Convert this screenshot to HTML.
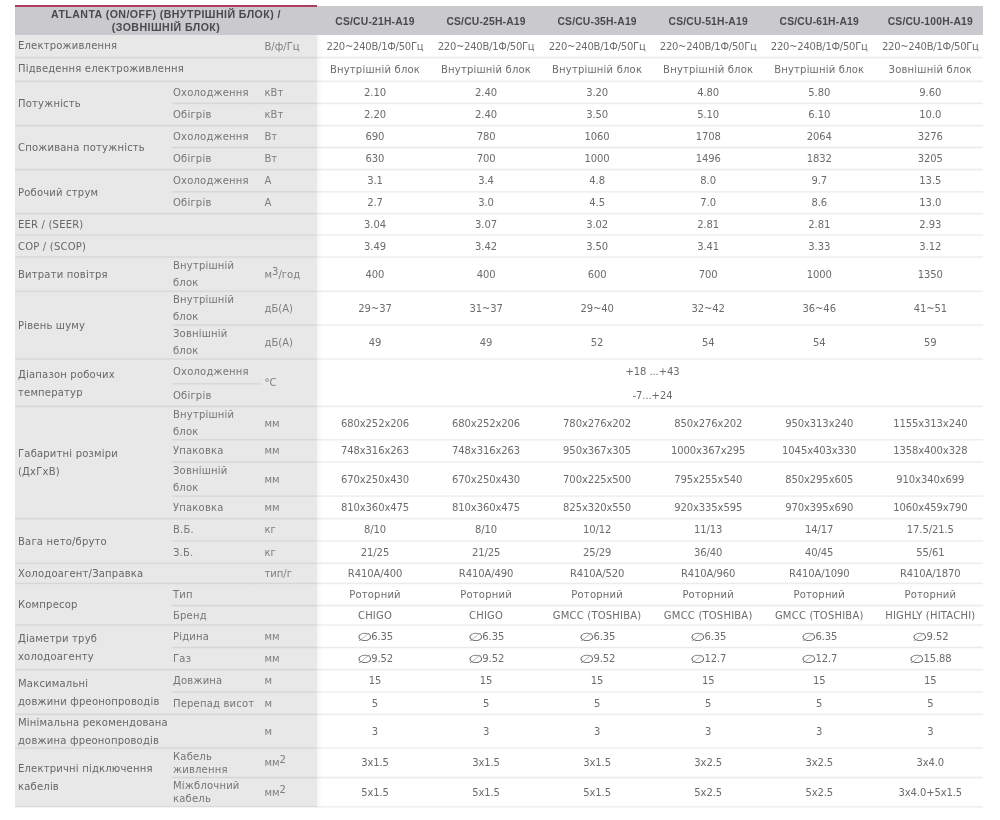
<!DOCTYPE html>
<html lang="uk"><head><meta charset="utf-8"><title>ATLANTA (ON/OFF)</title>
<style>
html,body{margin:0;padding:0;background:#fff}
body{width:1000px;height:820px;position:relative;overflow:hidden;font-family:"DejaVu Sans","Liberation Sans",sans-serif;font-size:10px;letter-spacing:.2px;color:#6a6a6a;-webkit-font-smoothing:antialiased}
.left{position:absolute;left:15px;top:34.8px;width:302px;height:772.3px;background:#e8e8e8}
.shadow{position:absolute;left:317px;top:35px;width:5px;height:771px;background:linear-gradient(to right,rgba(0,0,0,.04),rgba(0,0,0,0))}
.red{position:absolute;left:15px;top:4.7px;width:302px;height:1.9px;background:#ad3f5e}
.hd{position:absolute;left:15px;top:5.85px;width:968px;height:28.95px;background:#c9c9ce}
.hl{position:absolute;left:15px;top:7.1px;width:302px;height:27.5px;display:flex;align-items:center;justify-content:center;text-align:center;font-family:"Liberation Sans",sans-serif;font-weight:bold;font-size:10.6px;line-height:12.8px;color:#4a4a4c;letter-spacing:.45px}
.hc{position:absolute;top:7.3px;height:27.5px;width:120px;display:flex;align-items:center;justify-content:center;font-family:"Liberation Sans",sans-serif;font-weight:bold;font-size:10.3px;color:#4a4a4c;white-space:nowrap}
.l{position:absolute;height:5px}
.g{color:#676767}.s{color:#757575}.u{color:#7e7e7e;letter-spacing:0}.v{color:#6c6c6c}
.g{position:absolute;left:18px;width:160px;display:flex;align-items:center;line-height:18px;white-space:nowrap}
.s{position:absolute;left:173px;width:92px;display:flex;align-items:center;line-height:17px;white-space:nowrap}
.s.t{line-height:13px}
.u{position:absolute;left:264.5px;width:52px;display:flex;align-items:center;white-space:nowrap}
.v{position:absolute;width:130px;display:flex;align-items:center;justify-content:center;white-space:nowrap;letter-spacing:-.1px}
.v.t{letter-spacing:.2px}
.v.n{letter-spacing:-.25px}
.d{display:inline-block;transform:scale(1.72,1.18);margin:0 3px 0 2.8px}
sup{font-size:10px;line-height:0;vertical-align:3.5px}
</style></head><body>

<main class="spec">
<div class="left"></div><div class="shadow"></div>
<header class="thead"><div class="hd"></div><div class="red"></div>
<div class="hl"><span>ATLANTA (ON/OFF) (ВНУТРІШНІЙ БЛОК) /<br>(ЗОВНІШНІЙ БЛОК)</span></div>
<div class="hc" style="left:315px">CS/CU-21H-A19</div>
<div class="hc" style="left:426.06px">CS/CU-25H-A19</div>
<div class="hc" style="left:537.12px">CS/CU-35H-A19</div>
<div class="hc" style="left:648.18px">CS/CU-51H-A19</div>
<div class="hc" style="left:759.24px">CS/CU-61H-A19</div>
<div class="hc" style="left:870.3px">CS/CU-100H-A19</div>
</header>
<section class="grp">
<div class="g" style="top:34.9px;height:22.6px"><span>Електроживлення</span></div>
<div class="tr">
<div class="u" style="top:34.9px;height:22.6px"><span>В/ф/Гц</span></div>
<div class="v n" style="left:310px;top:34.9px;height:22.6px"><span>220~240В/1Ф/50Гц</span></div>
<div class="v n" style="left:421.06px;top:34.9px;height:22.6px"><span>220~240В/1Ф/50Гц</span></div>
<div class="v n" style="left:532.12px;top:34.9px;height:22.6px"><span>220~240В/1Ф/50Гц</span></div>
<div class="v n" style="left:643.18px;top:34.9px;height:22.6px"><span>220~240В/1Ф/50Гц</span></div>
<div class="v n" style="left:754.24px;top:34.9px;height:22.6px"><span>220~240В/1Ф/50Гц</span></div>
<div class="v n" style="left:865.3px;top:34.9px;height:22.6px"><span>220~240В/1Ф/50Гц</span></div>
</div>
</section>
<section class="grp">
<div class="g" style="top:57.5px;height:23.8px"><span>Підведення електроживлення</span></div>
<div class="tr">
<div class="l" style="left:15px;top:55px;width:968px;background:linear-gradient(to bottom,rgba(0,0,0,0) 1.10px,rgba(0,0,0,0.08) 2.50px,rgba(0,0,0,0) 3.90px)"></div>
<div class="v t" style="left:310px;top:57.5px;height:23.8px"><span>Внутрішній блок</span></div>
<div class="v t" style="left:421.06px;top:57.5px;height:23.8px"><span>Внутрішній блок</span></div>
<div class="v t" style="left:532.12px;top:57.5px;height:23.8px"><span>Внутрішній блок</span></div>
<div class="v t" style="left:643.18px;top:57.5px;height:23.8px"><span>Внутрішній блок</span></div>
<div class="v t" style="left:754.24px;top:57.5px;height:23.8px"><span>Внутрішній блок</span></div>
<div class="v t" style="left:865.3px;top:57.5px;height:23.8px"><span>Зовнішній блок</span></div>
</div>
</section>
<section class="grp">
<div class="g" style="top:82.3px;height:44.3px"><span>Потужність</span></div>
<div class="tr">
<div class="l" style="left:15px;top:79px;width:968px;background:linear-gradient(to bottom,rgba(0,0,0,0) 0.90px,rgba(0,0,0,0.08) 2.30px,rgba(0,0,0,0) 3.70px)"></div>
<div class="s" style="top:81.3px;height:22.1px"><span>Охолодження</span></div>
<div class="u" style="top:81.3px;height:22.1px"><span>кВт</span></div>
<div class="v" style="left:310px;top:81.3px;height:22.1px"><span>2.10</span></div>
<div class="v" style="left:421.06px;top:81.3px;height:22.1px"><span>2.40</span></div>
<div class="v" style="left:532.12px;top:81.3px;height:22.1px"><span>3.20</span></div>
<div class="v" style="left:643.18px;top:81.3px;height:22.1px"><span>4.80</span></div>
<div class="v" style="left:754.24px;top:81.3px;height:22.1px"><span>5.80</span></div>
<div class="v" style="left:865.3px;top:81.3px;height:22.1px"><span>9.60</span></div>
</div>
<div class="tr">
<div class="l" style="left:172px;top:101px;width:811px;background:linear-gradient(to bottom,rgba(0,0,0,0) 1.00px,rgba(0,0,0,0.08) 2.40px,rgba(0,0,0,0) 3.80px)"></div>
<div class="s" style="top:103.4px;height:22.2px"><span>Обігрів</span></div>
<div class="u" style="top:103.4px;height:22.2px"><span>кВт</span></div>
<div class="v" style="left:310px;top:103.4px;height:22.2px"><span>2.20</span></div>
<div class="v" style="left:421.06px;top:103.4px;height:22.2px"><span>2.40</span></div>
<div class="v" style="left:532.12px;top:103.4px;height:22.2px"><span>3.50</span></div>
<div class="v" style="left:643.18px;top:103.4px;height:22.2px"><span>5.10</span></div>
<div class="v" style="left:754.24px;top:103.4px;height:22.2px"><span>6.10</span></div>
<div class="v" style="left:865.3px;top:103.4px;height:22.2px"><span>10.0</span></div>
</div>
</section>
<section class="grp">
<div class="g" style="top:125.6px;height:43.9px"><span>Споживана потужність</span></div>
<div class="tr">
<div class="l" style="left:15px;top:123px;width:968px;background:linear-gradient(to bottom,rgba(0,0,0,0) 1.20px,rgba(0,0,0,0.08) 2.60px,rgba(0,0,0,0) 4.00px)"></div>
<div class="s" style="top:125.6px;height:21.9px"><span>Охолодження</span></div>
<div class="u" style="top:125.6px;height:21.9px"><span>Вт</span></div>
<div class="v" style="left:310px;top:125.6px;height:21.9px"><span>690</span></div>
<div class="v" style="left:421.06px;top:125.6px;height:21.9px"><span>780</span></div>
<div class="v" style="left:532.12px;top:125.6px;height:21.9px"><span>1060</span></div>
<div class="v" style="left:643.18px;top:125.6px;height:21.9px"><span>1708</span></div>
<div class="v" style="left:754.24px;top:125.6px;height:21.9px"><span>2064</span></div>
<div class="v" style="left:865.3px;top:125.6px;height:21.9px"><span>3276</span></div>
</div>
<div class="tr">
<div class="l" style="left:172px;top:145px;width:811px;background:linear-gradient(to bottom,rgba(0,0,0,0) 1.10px,rgba(0,0,0,0.08) 2.50px,rgba(0,0,0,0) 3.90px)"></div>
<div class="s" style="top:147.5px;height:22px"><span>Обігрів</span></div>
<div class="u" style="top:147.5px;height:22px"><span>Вт</span></div>
<div class="v" style="left:310px;top:147.5px;height:22px"><span>630</span></div>
<div class="v" style="left:421.06px;top:147.5px;height:22px"><span>700</span></div>
<div class="v" style="left:532.12px;top:147.5px;height:22px"><span>1000</span></div>
<div class="v" style="left:643.18px;top:147.5px;height:22px"><span>1496</span></div>
<div class="v" style="left:754.24px;top:147.5px;height:22px"><span>1832</span></div>
<div class="v" style="left:865.3px;top:147.5px;height:22px"><span>3205</span></div>
</div>
</section>
<section class="grp">
<div class="g" style="top:170.5px;height:44.2px"><span>Робочий струм</span></div>
<div class="tr">
<div class="l" style="left:15px;top:167px;width:968px;background:linear-gradient(to bottom,rgba(0,0,0,0) 1.10px,rgba(0,0,0,0.08) 2.50px,rgba(0,0,0,0) 3.90px)"></div>
<div class="s" style="top:169.5px;height:22.3px"><span>Охолодження</span></div>
<div class="u" style="top:169.5px;height:22.3px"><span>А</span></div>
<div class="v" style="left:310px;top:169.5px;height:22.3px"><span>3.1</span></div>
<div class="v" style="left:421.06px;top:169.5px;height:22.3px"><span>3.4</span></div>
<div class="v" style="left:532.12px;top:169.5px;height:22.3px"><span>4.8</span></div>
<div class="v" style="left:643.18px;top:169.5px;height:22.3px"><span>8.0</span></div>
<div class="v" style="left:754.24px;top:169.5px;height:22.3px"><span>9.7</span></div>
<div class="v" style="left:865.3px;top:169.5px;height:22.3px"><span>13.5</span></div>
</div>
<div class="tr">
<div class="l" style="left:172px;top:189px;width:811px;background:linear-gradient(to bottom,rgba(0,0,0,0) 1.40px,rgba(0,0,0,0.08) 2.80px,rgba(0,0,0,0) 4.20px)"></div>
<div class="s" style="top:191.8px;height:21.9px"><span>Обігрів</span></div>
<div class="u" style="top:191.8px;height:21.9px"><span>А</span></div>
<div class="v" style="left:310px;top:191.8px;height:21.9px"><span>2.7</span></div>
<div class="v" style="left:421.06px;top:191.8px;height:21.9px"><span>3.0</span></div>
<div class="v" style="left:532.12px;top:191.8px;height:21.9px"><span>4.5</span></div>
<div class="v" style="left:643.18px;top:191.8px;height:21.9px"><span>7.0</span></div>
<div class="v" style="left:754.24px;top:191.8px;height:21.9px"><span>8.6</span></div>
<div class="v" style="left:865.3px;top:191.8px;height:21.9px"><span>13.0</span></div>
</div>
</section>
<section class="grp">
<div class="g" style="top:214.7px;height:21.4px"><span>EER / (SEER)</span></div>
<div class="tr">
<div class="l" style="left:15px;top:211px;width:968px;background:linear-gradient(to bottom,rgba(0,0,0,0) 1.30px,rgba(0,0,0,0.08) 2.70px,rgba(0,0,0,0) 4.10px)"></div>
<div class="v" style="left:310px;top:213.7px;height:21.4px"><span>3.04</span></div>
<div class="v" style="left:421.06px;top:213.7px;height:21.4px"><span>3.07</span></div>
<div class="v" style="left:532.12px;top:213.7px;height:21.4px"><span>3.02</span></div>
<div class="v" style="left:643.18px;top:213.7px;height:21.4px"><span>2.81</span></div>
<div class="v" style="left:754.24px;top:213.7px;height:21.4px"><span>2.81</span></div>
<div class="v" style="left:865.3px;top:213.7px;height:21.4px"><span>2.93</span></div>
</div>
</section>
<section class="grp">
<div class="g" style="top:236.1px;height:21.9px"><span>COP / (SCOP)</span></div>
<div class="tr">
<div class="l" style="left:15px;top:233px;width:968px;background:linear-gradient(to bottom,rgba(0,0,0,0) 0.70px,rgba(0,0,0,0.08) 2.10px,rgba(0,0,0,0) 3.50px)"></div>
<div class="v" style="left:310px;top:235.1px;height:21.9px"><span>3.49</span></div>
<div class="v" style="left:421.06px;top:235.1px;height:21.9px"><span>3.42</span></div>
<div class="v" style="left:532.12px;top:235.1px;height:21.9px"><span>3.50</span></div>
<div class="v" style="left:643.18px;top:235.1px;height:21.9px"><span>3.41</span></div>
<div class="v" style="left:754.24px;top:235.1px;height:21.9px"><span>3.33</span></div>
<div class="v" style="left:865.3px;top:235.1px;height:21.9px"><span>3.12</span></div>
</div>
</section>
<section class="grp">
<div class="g" style="top:258px;height:34.2px"><span>Витрати повітря</span></div>
<div class="tr">
<div class="l" style="left:15px;top:255px;width:968px;background:linear-gradient(to bottom,rgba(0,0,0,0) 0.60px,rgba(0,0,0,0.08) 2.00px,rgba(0,0,0,0) 3.40px)"></div>
<div class="s" style="top:257px;height:34.2px"><span>Внутрішній<br>блок</span></div>
<div class="u" style="top:257px;height:34.2px"><span>м<sup>3</sup>/год</span></div>
<div class="v" style="left:310px;top:257px;height:34.2px"><span>400</span></div>
<div class="v" style="left:421.06px;top:257px;height:34.2px"><span>400</span></div>
<div class="v" style="left:532.12px;top:257px;height:34.2px"><span>600</span></div>
<div class="v" style="left:643.18px;top:257px;height:34.2px"><span>700</span></div>
<div class="v" style="left:754.24px;top:257px;height:34.2px"><span>1000</span></div>
<div class="v" style="left:865.3px;top:257px;height:34.2px"><span>1350</span></div>
</div>
</section>
<section class="grp">
<div class="g" style="top:292.2px;height:67.8px"><span>Рівень шуму</span></div>
<div class="tr">
<div class="l" style="left:15px;top:289px;width:968px;background:linear-gradient(to bottom,rgba(0,0,0,0) 0.80px,rgba(0,0,0,0.08) 2.20px,rgba(0,0,0,0) 3.60px)"></div>
<div class="s" style="top:291.2px;height:33.9px"><span>Внутрішній<br>блок</span></div>
<div class="u" style="top:291.2px;height:33.9px"><span>дБ(А)</span></div>
<div class="v" style="left:310px;top:291.2px;height:33.9px"><span>29~37</span></div>
<div class="v" style="left:421.06px;top:291.2px;height:33.9px"><span>31~37</span></div>
<div class="v" style="left:532.12px;top:291.2px;height:33.9px"><span>29~40</span></div>
<div class="v" style="left:643.18px;top:291.2px;height:33.9px"><span>32~42</span></div>
<div class="v" style="left:754.24px;top:291.2px;height:33.9px"><span>36~46</span></div>
<div class="v" style="left:865.3px;top:291.2px;height:33.9px"><span>41~51</span></div>
</div>
<div class="tr">
<div class="l" style="left:172px;top:323px;width:811px;background:linear-gradient(to bottom,rgba(0,0,0,0) 0.70px,rgba(0,0,0,0.08) 2.10px,rgba(0,0,0,0) 3.50px)"></div>
<div class="s" style="top:325.1px;height:33.9px"><span>Зовнішній<br>блок</span></div>
<div class="u" style="top:325.1px;height:33.9px"><span>дБ(А)</span></div>
<div class="v" style="left:310px;top:325.1px;height:33.9px"><span>49</span></div>
<div class="v" style="left:421.06px;top:325.1px;height:33.9px"><span>49</span></div>
<div class="v" style="left:532.12px;top:325.1px;height:33.9px"><span>52</span></div>
<div class="v" style="left:643.18px;top:325.1px;height:33.9px"><span>54</span></div>
<div class="v" style="left:754.24px;top:325.1px;height:33.9px"><span>54</span></div>
<div class="v" style="left:865.3px;top:325.1px;height:33.9px"><span>59</span></div>
</div>
</section>
<section class="grp">
<div class="g" style="top:360px;height:47.3px"><span>Діапазон робочих<br>температур</span></div>
<div class="tr">
<div class="l" style="left:15px;top:357px;width:968px;background:linear-gradient(to bottom,rgba(0,0,0,0) 0.60px,rgba(0,0,0,0.08) 2.00px,rgba(0,0,0,0) 3.40px)"></div>
<div class="l" style="left:172px;top:381px;width:90px;background:linear-gradient(to bottom,rgba(0,0,0,0) 1.40px,rgba(0,0,0,0.08) 2.80px,rgba(0,0,0,0) 4.20px)"></div>
<div class="s" style="top:359px;height:24.8px"><span>Охолодження</span></div>
<div class="s" style="top:383.8px;height:22.5px"><span>Обігрів</span></div>
<div class="u" style="top:359px;height:47.3px"><span>°C</span></div>
<div class="v" style="left:587.5px;top:359px;height:24.8px"><span>+18 ...+43</span></div>
<div class="v" style="left:587.5px;top:383.8px;height:22.5px"><span>-7...+24</span></div>
</div>
</section>
<section class="grp">
<div class="g" style="top:407.3px;height:112.35px"><span>Габаритні розміри<br>(ДхГхВ)</span></div>
<div class="tr">
<div class="l" style="left:15px;top:404px;width:968px;background:linear-gradient(to bottom,rgba(0,0,0,0) 0.90px,rgba(0,0,0,0.08) 2.30px,rgba(0,0,0,0) 3.70px)"></div>
<div class="s" style="top:406.3px;height:33.45px"><span>Внутрішній<br>блок</span></div>
<div class="u" style="top:406.3px;height:33.45px"><span>мм</span></div>
<div class="v" style="left:310px;top:406.3px;height:33.45px"><span>680x252x206</span></div>
<div class="v" style="left:421.06px;top:406.3px;height:33.45px"><span>680x252x206</span></div>
<div class="v" style="left:532.12px;top:406.3px;height:33.45px"><span>780x276x202</span></div>
<div class="v" style="left:643.18px;top:406.3px;height:33.45px"><span>850x276x202</span></div>
<div class="v" style="left:754.24px;top:406.3px;height:33.45px"><span>950x313x240</span></div>
<div class="v" style="left:865.3px;top:406.3px;height:33.45px"><span>1155x313x240</span></div>
</div>
<div class="tr">
<div class="l" style="left:172px;top:437px;width:811px;background:linear-gradient(to bottom,rgba(0,0,0,0) 1.35px,rgba(0,0,0,0.08) 2.75px,rgba(0,0,0,0) 4.15px)"></div>
<div class="s" style="top:439.75px;height:22.4px"><span>Упаковка</span></div>
<div class="u" style="top:439.75px;height:22.4px"><span>мм</span></div>
<div class="v" style="left:310px;top:439.75px;height:22.4px"><span>748x316x263</span></div>
<div class="v" style="left:421.06px;top:439.75px;height:22.4px"><span>748x316x263</span></div>
<div class="v" style="left:532.12px;top:439.75px;height:22.4px"><span>950x367x305</span></div>
<div class="v" style="left:643.18px;top:439.75px;height:22.4px"><span>1000x367x295</span></div>
<div class="v" style="left:754.24px;top:439.75px;height:22.4px"><span>1045x403x330</span></div>
<div class="v" style="left:865.3px;top:439.75px;height:22.4px"><span>1358x400x328</span></div>
</div>
<div class="tr">
<div class="l" style="left:172px;top:460px;width:811px;background:linear-gradient(to bottom,rgba(0,0,0,0) 0.75px,rgba(0,0,0,0.08) 2.15px,rgba(0,0,0,0) 3.55px)"></div>
<div class="s" style="top:462.15px;height:33.95px"><span>Зовнішній<br>блок</span></div>
<div class="u" style="top:462.15px;height:33.95px"><span>мм</span></div>
<div class="v" style="left:310px;top:462.15px;height:33.95px"><span>670x250x430</span></div>
<div class="v" style="left:421.06px;top:462.15px;height:33.95px"><span>670x250x430</span></div>
<div class="v" style="left:532.12px;top:462.15px;height:33.95px"><span>700x225x500</span></div>
<div class="v" style="left:643.18px;top:462.15px;height:33.95px"><span>795x255x540</span></div>
<div class="v" style="left:754.24px;top:462.15px;height:33.95px"><span>850x295x605</span></div>
<div class="v" style="left:865.3px;top:462.15px;height:33.95px"><span>910x340x699</span></div>
</div>
<div class="tr">
<div class="l" style="left:172px;top:494px;width:811px;background:linear-gradient(to bottom,rgba(0,0,0,0) 0.70px,rgba(0,0,0,0.08) 2.10px,rgba(0,0,0,0) 3.50px)"></div>
<div class="s" style="top:496.1px;height:22.55px"><span>Упаковка</span></div>
<div class="u" style="top:496.1px;height:22.55px"><span>мм</span></div>
<div class="v" style="left:310px;top:496.1px;height:22.55px"><span>810x360x475</span></div>
<div class="v" style="left:421.06px;top:496.1px;height:22.55px"><span>810x360x475</span></div>
<div class="v" style="left:532.12px;top:496.1px;height:22.55px"><span>825x320x550</span></div>
<div class="v" style="left:643.18px;top:496.1px;height:22.55px"><span>920x335x595</span></div>
<div class="v" style="left:754.24px;top:496.1px;height:22.55px"><span>970x395x690</span></div>
<div class="v" style="left:865.3px;top:496.1px;height:22.55px"><span>1060x459x790</span></div>
</div>
</section>
<section class="grp">
<div class="g" style="top:519.65px;height:44.55px"><span>Вага нето/бруто</span></div>
<div class="tr">
<div class="l" style="left:15px;top:516px;width:968px;background:linear-gradient(to bottom,rgba(0,0,0,0) 1.25px,rgba(0,0,0,0.08) 2.65px,rgba(0,0,0,0) 4.05px)"></div>
<div class="s" style="top:518.65px;height:22.25px"><span>В.Б.</span></div>
<div class="u" style="top:518.65px;height:22.25px"><span>кг</span></div>
<div class="v" style="left:310px;top:518.65px;height:22.25px"><span>8/10</span></div>
<div class="v" style="left:421.06px;top:518.65px;height:22.25px"><span>8/10</span></div>
<div class="v" style="left:532.12px;top:518.65px;height:22.25px"><span>10/12</span></div>
<div class="v" style="left:643.18px;top:518.65px;height:22.25px"><span>11/13</span></div>
<div class="v" style="left:754.24px;top:518.65px;height:22.25px"><span>14/17</span></div>
<div class="v" style="left:865.3px;top:518.65px;height:22.25px"><span>17.5/21.5</span></div>
</div>
<div class="tr">
<div class="l" style="left:172px;top:538px;width:811px;background:linear-gradient(to bottom,rgba(0,0,0,0) 1.50px,rgba(0,0,0,0.08) 2.90px,rgba(0,0,0,0) 4.30px)"></div>
<div class="s" style="top:540.9px;height:22.3px"><span>З.Б.</span></div>
<div class="u" style="top:540.9px;height:22.3px"><span>кг</span></div>
<div class="v" style="left:310px;top:540.9px;height:22.3px"><span>21/25</span></div>
<div class="v" style="left:421.06px;top:540.9px;height:22.3px"><span>21/25</span></div>
<div class="v" style="left:532.12px;top:540.9px;height:22.3px"><span>25/29</span></div>
<div class="v" style="left:643.18px;top:540.9px;height:22.3px"><span>36/40</span></div>
<div class="v" style="left:754.24px;top:540.9px;height:22.3px"><span>40/45</span></div>
<div class="v" style="left:865.3px;top:540.9px;height:22.3px"><span>55/61</span></div>
</div>
</section>
<section class="grp">
<div class="g" style="top:564.2px;height:20.2px"><span>Холодоагент/Заправка</span></div>
<div class="tr">
<div class="l" style="left:15px;top:561px;width:968px;background:linear-gradient(to bottom,rgba(0,0,0,0) 0.80px,rgba(0,0,0,0.08) 2.20px,rgba(0,0,0,0) 3.60px)"></div>
<div class="u" style="top:563.2px;height:20.2px"><span>тип/г</span></div>
<div class="v" style="left:310px;top:563.2px;height:20.2px"><span>R410A/400</span></div>
<div class="v" style="left:421.06px;top:563.2px;height:20.2px"><span>R410A/490</span></div>
<div class="v" style="left:532.12px;top:563.2px;height:20.2px"><span>R410A/520</span></div>
<div class="v" style="left:643.18px;top:563.2px;height:20.2px"><span>R410A/960</span></div>
<div class="v" style="left:754.24px;top:563.2px;height:20.2px"><span>R410A/1090</span></div>
<div class="v" style="left:865.3px;top:563.2px;height:20.2px"><span>R410A/1870</span></div>
</div>
</section>
<section class="grp">
<div class="g" style="top:584.4px;height:41.6px"><span>Компресор</span></div>
<div class="tr">
<div class="l" style="left:15px;top:581px;width:968px;background:linear-gradient(to bottom,rgba(0,0,0,0) 1.00px,rgba(0,0,0,0.08) 2.40px,rgba(0,0,0,0) 3.80px)"></div>
<div class="s" style="top:583.4px;height:22.1px"><span>Тип</span></div>
<div class="v t" style="left:310px;top:583.4px;height:22.1px"><span>Роторний</span></div>
<div class="v t" style="left:421.06px;top:583.4px;height:22.1px"><span>Роторний</span></div>
<div class="v t" style="left:532.12px;top:583.4px;height:22.1px"><span>Роторний</span></div>
<div class="v t" style="left:643.18px;top:583.4px;height:22.1px"><span>Роторний</span></div>
<div class="v t" style="left:754.24px;top:583.4px;height:22.1px"><span>Роторний</span></div>
<div class="v t" style="left:865.3px;top:583.4px;height:22.1px"><span>Роторний</span></div>
</div>
<div class="tr">
<div class="l" style="left:172px;top:603px;width:811px;background:linear-gradient(to bottom,rgba(0,0,0,0) 1.10px,rgba(0,0,0,0.08) 2.50px,rgba(0,0,0,0) 3.90px)"></div>
<div class="s" style="top:605.5px;height:19.5px"><span>Бренд</span></div>
<div class="v t" style="left:310px;top:605.5px;height:19.5px"><span>CHIGO</span></div>
<div class="v t" style="left:421.06px;top:605.5px;height:19.5px"><span>CHIGO</span></div>
<div class="v t" style="left:532.12px;top:605.5px;height:19.5px"><span>GMCC (TOSHIBA)</span></div>
<div class="v t" style="left:643.18px;top:605.5px;height:19.5px"><span>GMCC (TOSHIBA)</span></div>
<div class="v t" style="left:754.24px;top:605.5px;height:19.5px"><span>GMCC (TOSHIBA)</span></div>
<div class="v t" style="left:865.3px;top:605.5px;height:19.5px"><span>HIGHLY (HITACHI)</span></div>
</div>
</section>
<section class="grp">
<div class="g" style="top:626px;height:44.7px"><span>Діаметри труб<br>холодоагенту</span></div>
<div class="tr">
<div class="l" style="left:15px;top:623px;width:968px;background:linear-gradient(to bottom,rgba(0,0,0,0) 0.60px,rgba(0,0,0,0.08) 2.00px,rgba(0,0,0,0) 3.40px)"></div>
<div class="s" style="top:625px;height:22.5px"><span>Рідина</span></div>
<div class="u" style="top:625px;height:22.5px"><span>мм</span></div>
<div class="v" style="left:310px;top:625px;height:22.5px"><span><span class="d">∅</span>6.35</span></div>
<div class="v" style="left:421.06px;top:625px;height:22.5px"><span><span class="d">∅</span>6.35</span></div>
<div class="v" style="left:532.12px;top:625px;height:22.5px"><span><span class="d">∅</span>6.35</span></div>
<div class="v" style="left:643.18px;top:625px;height:22.5px"><span><span class="d">∅</span>6.35</span></div>
<div class="v" style="left:754.24px;top:625px;height:22.5px"><span><span class="d">∅</span>6.35</span></div>
<div class="v" style="left:865.3px;top:625px;height:22.5px"><span><span class="d">∅</span>9.52</span></div>
</div>
<div class="tr">
<div class="l" style="left:172px;top:645px;width:811px;background:linear-gradient(to bottom,rgba(0,0,0,0) 1.10px,rgba(0,0,0,0.08) 2.50px,rgba(0,0,0,0) 3.90px)"></div>
<div class="s" style="top:647.5px;height:22.2px"><span>Газ</span></div>
<div class="u" style="top:647.5px;height:22.2px"><span>мм</span></div>
<div class="v" style="left:310px;top:647.5px;height:22.2px"><span><span class="d">∅</span>9.52</span></div>
<div class="v" style="left:421.06px;top:647.5px;height:22.2px"><span><span class="d">∅</span>9.52</span></div>
<div class="v" style="left:532.12px;top:647.5px;height:22.2px"><span><span class="d">∅</span>9.52</span></div>
<div class="v" style="left:643.18px;top:647.5px;height:22.2px"><span><span class="d">∅</span>12.7</span></div>
<div class="v" style="left:754.24px;top:647.5px;height:22.2px"><span><span class="d">∅</span>12.7</span></div>
<div class="v" style="left:865.3px;top:647.5px;height:22.2px"><span><span class="d">∅</span>15.88</span></div>
</div>
</section>
<section class="grp">
<div class="g" style="top:670.7px;height:44.6px"><span>Максимальні<br>довжини фреонопроводів</span></div>
<div class="tr">
<div class="l" style="left:15px;top:667px;width:968px;background:linear-gradient(to bottom,rgba(0,0,0,0) 1.30px,rgba(0,0,0,0.08) 2.70px,rgba(0,0,0,0) 4.10px)"></div>
<div class="s" style="top:669.7px;height:22.2px"><span>Довжина</span></div>
<div class="u" style="top:669.7px;height:22.2px"><span>м</span></div>
<div class="v" style="left:310px;top:669.7px;height:22.2px"><span>15</span></div>
<div class="v" style="left:421.06px;top:669.7px;height:22.2px"><span>15</span></div>
<div class="v" style="left:532.12px;top:669.7px;height:22.2px"><span>15</span></div>
<div class="v" style="left:643.18px;top:669.7px;height:22.2px"><span>15</span></div>
<div class="v" style="left:754.24px;top:669.7px;height:22.2px"><span>15</span></div>
<div class="v" style="left:865.3px;top:669.7px;height:22.2px"><span>15</span></div>
</div>
<div class="tr">
<div class="l" style="left:172px;top:689px;width:811px;background:linear-gradient(to bottom,rgba(0,0,0,0) 1.50px,rgba(0,0,0,0.08) 2.90px,rgba(0,0,0,0) 4.30px)"></div>
<div class="s" style="top:691.9px;height:22.4px"><span>Перепад висот</span></div>
<div class="u" style="top:691.9px;height:22.4px"><span>м</span></div>
<div class="v" style="left:310px;top:691.9px;height:22.4px"><span>5</span></div>
<div class="v" style="left:421.06px;top:691.9px;height:22.4px"><span>5</span></div>
<div class="v" style="left:532.12px;top:691.9px;height:22.4px"><span>5</span></div>
<div class="v" style="left:643.18px;top:691.9px;height:22.4px"><span>5</span></div>
<div class="v" style="left:754.24px;top:691.9px;height:22.4px"><span>5</span></div>
<div class="v" style="left:865.3px;top:691.9px;height:22.4px"><span>5</span></div>
</div>
</section>
<section class="grp">
<div class="g" style="top:715.3px;height:33.75px"><span>Мінімальна рекомендована<br>довжина фреонопроводів</span></div>
<div class="tr">
<div class="l" style="left:15px;top:712px;width:968px;background:linear-gradient(to bottom,rgba(0,0,0,0) 0.90px,rgba(0,0,0,0.08) 2.30px,rgba(0,0,0,0) 3.70px)"></div>
<div class="u" style="top:714.3px;height:33.75px"><span>м</span></div>
<div class="v" style="left:310px;top:714.3px;height:33.75px"><span>3</span></div>
<div class="v" style="left:421.06px;top:714.3px;height:33.75px"><span>3</span></div>
<div class="v" style="left:532.12px;top:714.3px;height:33.75px"><span>3</span></div>
<div class="v" style="left:643.18px;top:714.3px;height:33.75px"><span>3</span></div>
<div class="v" style="left:754.24px;top:714.3px;height:33.75px"><span>3</span></div>
<div class="v" style="left:865.3px;top:714.3px;height:33.75px"><span>3</span></div>
</div>
</section>
<section class="grp">
<div class="g" style="top:749.05px;height:58.75px"><span>Електричні підключення<br>кабелів</span></div>
<div class="tr">
<div class="l" style="left:15px;top:746px;width:968px;background:linear-gradient(to bottom,rgba(0,0,0,0) 0.65px,rgba(0,0,0,0.08) 2.05px,rgba(0,0,0,0) 3.45px)"></div>
<div class="s t" style="top:748.05px;height:29.45px"><span>Кабель<br>живлення</span></div>
<div class="u" style="top:748.05px;height:29.45px"><span>мм<sup>2</sup></span></div>
<div class="v" style="left:310px;top:748.05px;height:29.45px"><span>3x1.5</span></div>
<div class="v" style="left:421.06px;top:748.05px;height:29.45px"><span>3x1.5</span></div>
<div class="v" style="left:532.12px;top:748.05px;height:29.45px"><span>3x1.5</span></div>
<div class="v" style="left:643.18px;top:748.05px;height:29.45px"><span>3x2.5</span></div>
<div class="v" style="left:754.24px;top:748.05px;height:29.45px"><span>3x2.5</span></div>
<div class="v" style="left:865.3px;top:748.05px;height:29.45px"><span>3x4.0</span></div>
</div>
<div class="tr">
<div class="l" style="left:172px;top:775px;width:811px;background:linear-gradient(to bottom,rgba(0,0,0,0) 1.10px,rgba(0,0,0,0.08) 2.50px,rgba(0,0,0,0) 3.90px)"></div>
<div class="s t" style="top:777.5px;height:29.3px"><span>Міжблочний<br>кабель</span></div>
<div class="u" style="top:777.5px;height:29.3px"><span>мм<sup>2</sup></span></div>
<div class="v" style="left:310px;top:777.5px;height:29.3px"><span>5x1.5</span></div>
<div class="v" style="left:421.06px;top:777.5px;height:29.3px"><span>5x1.5</span></div>
<div class="v" style="left:532.12px;top:777.5px;height:29.3px"><span>5x1.5</span></div>
<div class="v" style="left:643.18px;top:777.5px;height:29.3px"><span>5x2.5</span></div>
<div class="v" style="left:754.24px;top:777.5px;height:29.3px"><span>5x2.5</span></div>
<div class="v" style="left:865.3px;top:777.5px;height:29.3px"><span>3x4.0+5x1.5</span></div>
</div>
</section>
<div class="l" style="left:15px;top:804px;width:968px;background:linear-gradient(to bottom,rgba(0,0,0,0) 1.40px,rgba(0,0,0,0.08) 2.80px,rgba(0,0,0,0) 4.20px)"></div>
</main>
</body></html>
